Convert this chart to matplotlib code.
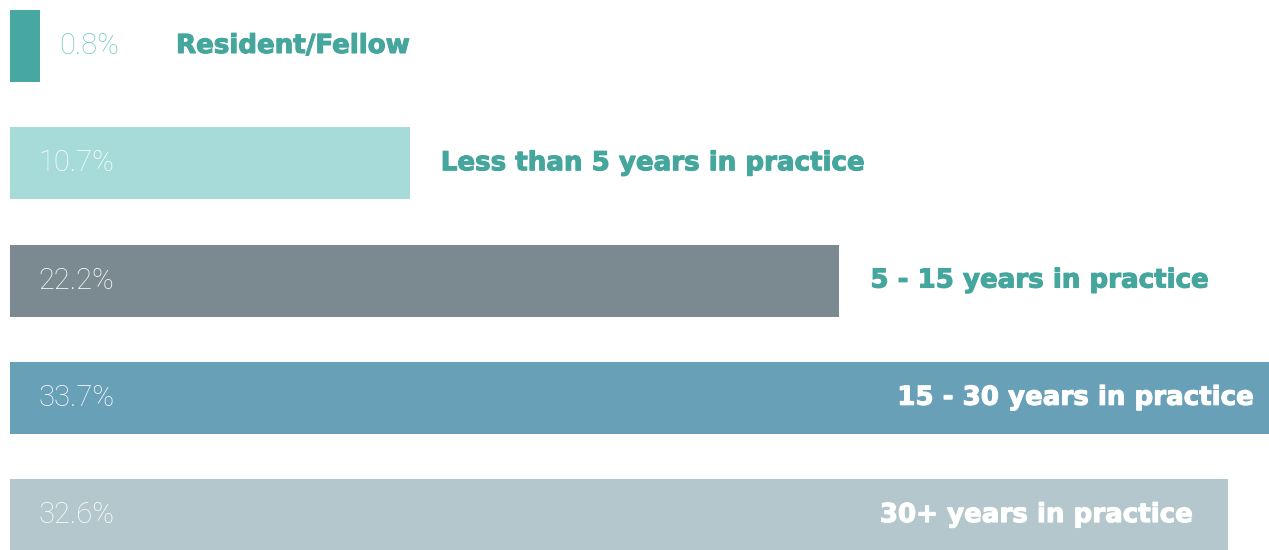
import matplotlib.pyplot as plt
import matplotlib.patheffects as pe

categories = ['Resident/Fellow', 'Less than 5 years in practice', '5 - 15 years in practice',
              '15 - 30 years in practice', '30+ years in practice']
values = [0.8, 10.7, 22.2, 33.7, 32.6]
bar_colors = ['#47a8a1', '#a7dbd9', '#7a8a90', '#68a0b8', '#b4c7cd']

teal = '#45a69e'
pct_font = dict(fontsize=21, family='Roboto', weight='light')
cat_font = dict(fontsize=18.8, family='DejaVu Sans', weight='bold')

fig = plt.figure(figsize=(12.69, 5.5), dpi=100)
ax = fig.add_axes([10 / 1269, 0, 1259 / 1269, 1])
ypos = list(range(len(values)))
ax.barh(ypos, values, height=0.614, color=bar_colors)
ax.set_xlim(0, 33.7)
ax.set_ylim(4.298, -0.392)
ax.axis('off')

px = 33.7 / 1259  # data units per pixel in x


def bold_text(x, y, s, color, ha):
    t = ax.text(x, y, s, va='center', ha=ha, color=color, **cat_font)
    # thicken a bit, reference font is heavier
    t.set_path_effects([pe.withStroke(linewidth=0.8, foreground=color)])


for i, (v, cat) in enumerate(zip(values, categories)):
    txt = f'{v}%'
    if i == 0:
        ax.text(v + 19 * px, i, txt, va='center', ha='left', color='#74c9c3', **pct_font)
        bold_text(166 * px, i, cat, teal, 'left')
    else:
        ax.text(28 * px, i, txt, va='center', ha='left', color='white', **pct_font)
        if i < 3:
            bold_text(v + 31 * px, i, cat, teal, 'left')
        else:
            off = 14 if i == 3 else 34
            bold_text(v - off * px, i, cat, 'white', 'right')

fig.savefig('out.png', dpi=100)
